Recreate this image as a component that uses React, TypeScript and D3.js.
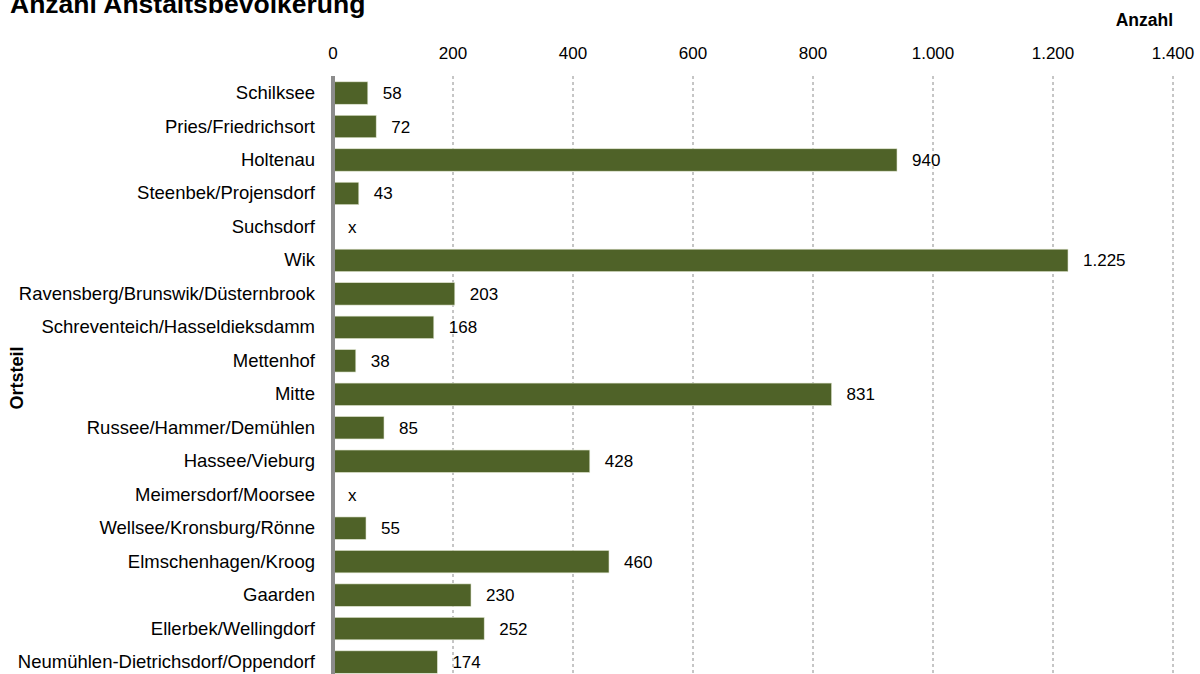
import React from "react";
import * as d3 from "d3";

const categories = [
  "Schilksee",
  "Pries/Friedrichsort",
  "Holtenau",
  "Steenbek/Projensdorf",
  "Suchsdorf",
  "Wik",
  "Ravensberg/Brunswik/Düsternbrook",
  "Schreventeich/Hasseldieksdamm",
  "Mettenhof",
  "Mitte",
  "Russee/Hammer/Demühlen",
  "Hassee/Vieburg",
  "Meimersdorf/Moorsee",
  "Wellsee/Kronsburg/Rönne",
  "Elmschenhagen/Kroog",
  "Gaarden",
  "Ellerbek/Wellingdorf",
  "Neumühlen-Dietrichsdorf/Oppendorf",
];
const values: (number | null)[] = [58, 72, 940, 43, null, 1225, 203, 168, 38, 831, 85, 428, null, 55, 460, 230, 252, 174];
const ticks = [0, 200, 400, 600, 800, 1000, 1200, 1400];
const title = "Anzahl Anstaltsbevölkerung";
const xTitle = "Anzahl";
const yTitle = "Ortsteil";

const fmt = (v: number) => d3.format(",")(v).replace(/,/g, ".");

export default function App() {
  const W = 1200, H = 674;
  const x = d3.scaleLinear().domain([0, 1400]).range([333, 1173]);
  const y = d3.scaleBand().domain(categories).range([76.3, 678.8]).paddingInner(0.33).paddingOuter(0.165);
  const font = "Arial, 'Liberation Sans', sans-serif";
  return (
    <svg width={W} height={H} style={{ position: "absolute", left: 0, top: 0 }} fontFamily={font}>
      <rect width={W} height={H} fill="#fff" />
      <text x={10} y={13} fontSize={26.5} fontWeight="bold" fill="#000">{title}</text>
      <text x={1173} y={26} fontSize={17.5} fontWeight="bold" textAnchor="end" fill="#000">{xTitle}</text>
      <text transform="translate(23,378) rotate(-90)" fontSize={18} fontWeight="bold" textAnchor="middle" fill="#000">{yTitle}</text>
      {ticks.map((t) => (
        <g key={t}>
          {t > 0 && (
            <line x1={x(t)} x2={x(t)} y1={76} y2={H} stroke="#8c8c8c" strokeWidth={1} strokeDasharray="3,3" />
          )}
          <text x={x(t)} y={59} fontSize={17} textAnchor="middle" fill="#000">{fmt(t)}</text>
        </g>
      ))}
      {categories.map((c, i) => {
        const v = values[i];
        const yc = (y(c) as number) + y.bandwidth() / 2;
        return (
          <g key={c}>
            <text x={315} y={yc + 6} fontSize={18.5} textAnchor="end" fill="#000">{c}</text>
            {v !== null && (
              <rect x={x(0)} y={y(c)} width={x(v) - x(0)} height={y.bandwidth()} fill="#4f6228" stroke="#dfe5cf" strokeWidth={0.6} />
            )}
            <text x={x(v ?? 0) + 15} y={yc + 6} fontSize={17} fill="#000">{v === null ? "x" : fmt(v)}</text>
          </g>
        );
      })}
      <line x1={x(0)} x2={x(0)} y1={76} y2={H} stroke="#8c8c8c" strokeWidth={4} />
    </svg>
  );
}
